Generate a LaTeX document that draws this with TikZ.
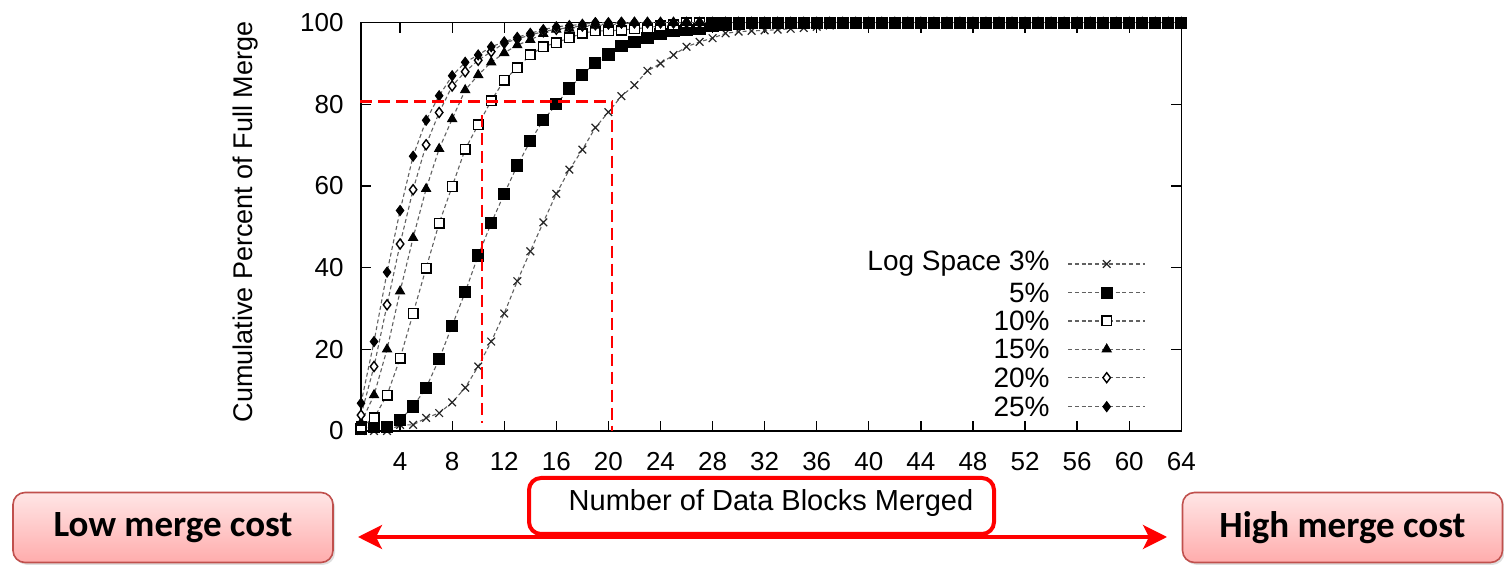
\documentclass[tikz,border=0pt]{standalone}
\usepackage{fontspec}
\setmainfont{Liberation Sans}
\newfontfamily\calibri{Carlito}
\usetikzlibrary{arrows.meta,plotmarks,shadows}

\definecolor{boxedge}{RGB}{192,80,77}
\definecolor{boxtop}{RGB}{255,230,230}
\definecolor{boxbot}{RGB}{255,172,172}
\definecolor{hired}{RGB}{255,0,0}

\tikzset{
  curve/.style={draw=black!62, line width=0.55pt, dash pattern=on 2pt off 1.4pt},
  c3/.style={curve, mark=x, mark size=2.7pt,
    mark options={solid, draw=black!85, line width=0.6pt}},
  c5/.style={curve, mark=square*, mark size=2.8pt,
    mark options={solid, draw=black, fill=black, line width=0.5pt}},
  c10/.style={curve, mark=square*, mark size=2.4pt,
    mark options={solid, draw=black, fill=white, line width=0.7pt}},
  c15/.style={curve, mark=triangle*, mark size=2.6pt,
    mark options={solid, draw=black, fill=black, line width=0.5pt}},
  c20/.style={curve, mark=diamond*, mark size=2.5pt,
    mark options={solid, draw=black, fill=white, line width=0.7pt}},
  c25/.style={curve, mark=diamond*, mark size=2.5pt,
    mark options={solid, draw=black, fill=black, line width=0.5pt}},
  ticklab/.style={inner sep=0pt, font=\fontsize{13pt}{15pt}\selectfont},
  legtext/.style={inner sep=0pt, anchor=east, font=\fontsize{14pt}{16pt}\selectfont},
  guide/.style={draw=hired, line width=1.3pt, dash pattern=on 6pt off 3pt},
  costbox/.style={rounded corners=6pt, draw=boxedge, line width=0.8pt,
    top color=boxtop, bottom color=boxbot,
    minimum width=160pt, minimum height=35pt, inner sep=0pt,
    font=\calibri\bfseries\fontsize{18.5pt}{20pt}\selectfont,
    drop shadow={opacity=0.25, shadow xshift=1pt, shadow yshift=-1.2pt}},
}

\begin{document}
\begin{tikzpicture}[x=0.5pt, y=-0.5pt]
\useasboundingbox (0,0) rectangle (1504,565);

% ---- data area: x = blocks merged, y = cumulative percent ----
\begin{scope}[shift={(348,431)}, x=6.51pt, y=2.0415pt]
  % frame and ticks
  \draw[line width=0.65pt] (1,0) rectangle (64,100);
  \foreach \t in {4,8,...,60} {
    \draw[line width=0.65pt] (\t,0) -- ++(0pt,5pt);
    \draw[line width=0.65pt] (\t,100) -- ++(0pt,-5pt);
    \node[ticklab] at (\t,0) [yshift=-15.4pt] {\t};
  }
  \node[ticklab] at (64,0) [yshift=-15.4pt] {64};
  \foreach \v in {20,40,60,80} {
    \draw[line width=0.65pt] (1,\v) -- ++(5pt,0pt);
    \draw[line width=0.65pt] (64,\v) -- ++(-5pt,0pt);
  }
  \foreach \v in {0,20,...,100} {
    \node[ticklab, anchor=east] at (1,\v) [xshift=-8.5pt] {\v};
  }

  % Log Space 3%
  \draw[c3] plot coordinates {(1,0) (2,0) (3,0) (4,1.5) (5,1.5) (6,3.2) (7,4.4) (8,7) (9,10.6) (10,15.8)
    (11,21.9) (12,28.8) (13,36.7) (14,44) (15,51.1) (16,58.1) (17,64) (18,68.9) (19,74.3) (20,78.1)
    (21,82) (22,84.7) (23,88.2) (24,90) (25,92.1) (26,94.1) (27,95.3) (28,96.2) (29,97.4) (30,97.8)
    (31,98) (32,98.1) (33,98.3) (34,98.5) (35,98.7) (36,99) (37,99.3) (38,99.5) (39,100)};
  \draw[c3] plot[domain=39:64, samples=26] (\x,100);

  % 5%
  \draw[c5] plot coordinates {(1,0.5) (2,1) (3,1) (4,2.7) (5,6) (6,10.6) (7,17.6) (8,25.8) (9,34) (10,43)
    (11,50.9) (12,58.1) (13,65) (14,71) (15,76.1) (16,80) (17,83.9) (18,87.2) (19,90.2) (20,92.2)
    (21,94.3) (22,95.3) (23,96.2) (24,97.2) (25,98) (26,98.2) (27,98.5) (28,99.2) (29,99.5) (30,99.8) (31,100)};
  \draw[c5] plot[domain=31:64, samples=34] (\x,100);

  % 10%
  \draw[c10] plot coordinates {(1,1) (2,3.2) (3,8.8) (4,17.8) (5,28.8) (6,39.9) (7,50.9) (8,59.9) (9,69) (10,75)
    (11,80.9) (12,85.9) (13,89) (14,92.1) (15,94.1) (16,95.1) (17,96.3) (18,97.4) (19,98) (20,98)
    (21,98.2) (22,98.5) (23,98.8) (24,99.2) (25,99.5) (26,100)};
  \draw[c10] plot[domain=26:64, samples=39] (\x,100);

  % 15%
  \draw[c15] plot coordinates {(1,2) (2,8.8) (3,20) (4,34.2) (5,47.3) (6,59.3) (7,69.1) (8,76.4) (9,83.5) (10,87.2)
    (11,90.3) (12,92.6) (13,94.5) (14,95.8) (15,97.3) (16,98.3) (17,98.6) (18,99) (19,99.3) (20,99.5)
    (21,99.7) (22,100)};
  \draw[c15] plot[domain=22:64, samples=43] (\x,100);

  % 20%
  \draw[c20] plot coordinates {(1,3.9) (2,15.8) (3,30.9) (4,45.8) (5,59.1) (6,70.1) (7,78) (8,84.5) (9,88) (10,90.8)
    (11,92.9) (12,95) (13,96) (14,97) (15,97.8) (16,98.4) (17,98.8) (18,99.2) (19,99.5) (20,99.7) (21,100)};
  \draw[c20] plot[domain=21:64, samples=44] (\x,100);

  % 25%
  \draw[c25] plot coordinates {(1,6.8) (2,21.9) (3,38.9) (4,54) (5,67.3) (6,76.1) (7,82.1) (8,87) (9,90.3) (10,92.1)
    (11,94.1) (12,95.3) (13,96.4) (14,97.4) (15,98.3) (16,99) (17,99.3) (18,99.6) (19,100)};
  \draw[c25] plot[domain=19:64, samples=46] (\x,100);

  % full-merge plateau of the 5% series drawn on top
  \path[c5] plot[domain=28:64, samples=37] (\x,100);
\end{scope}

% ---- 80% guide lines ----
\coordinate (g80L) at (360,101.7);
\coordinate (g80R) at (612,101.7);
\coordinate (g20B) at (612,431);
\coordinate (g10T) at (482,115);
\coordinate (g10B) at (482,423);
\draw[guide] (g80L) -- (g80R) -- (g20B);
\draw[guide] (g10T) -- (g10B);

% ---- axis titles ----
\node[rotate=90, inner sep=0pt, font=\fontsize{13.5pt}{15pt}\selectfont] (ytitle) at (246,222) {Cumulative Percent of Full Merge};
\node[draw=hired, line width=2pt, rounded corners=6pt, fill=white,
      minimum width=232.5pt, minimum height=28pt, inner sep=0pt] (xbox) at (761.5,506) {};
\node[inner sep=0pt, font=\fontsize{14.5pt}{16pt}\selectfont] (xtitle) at (771,503) {Number of Data Blocks Merged};

% ---- legend ----
\foreach \lab/\st/\yy in {Log Space 3\%/c3/264, 5\%/c5/292.7, 10\%/c10/321, 15\%/c15/349.3, 20\%/c20/377.7, 25\%/c25/406.7} {
  \node[legtext] at (1050,\yy) {\lab};
  \draw[\st, mark=none] (1068,\yy) -- (1145,\yy);
  \path[\st] plot coordinates {(1106.7,\yy)};
}

% ---- merge cost scale ----
\node[costbox] (low) at (173,527.5) {Low merge cost};
\node[costbox] (high) at (1342.5,527.5) {High merge cost};
\coordinate (arrL) at (358,537);
\coordinate (arrR) at (1167,537);
\draw[hired, line width=1.7pt, {Stealth[length=12pt, width=12pt, inset=3pt]}-{Stealth[length=12pt, width=12pt, inset=3pt]}] (arrL) -- (arrR);
\end{tikzpicture}
\end{document}
